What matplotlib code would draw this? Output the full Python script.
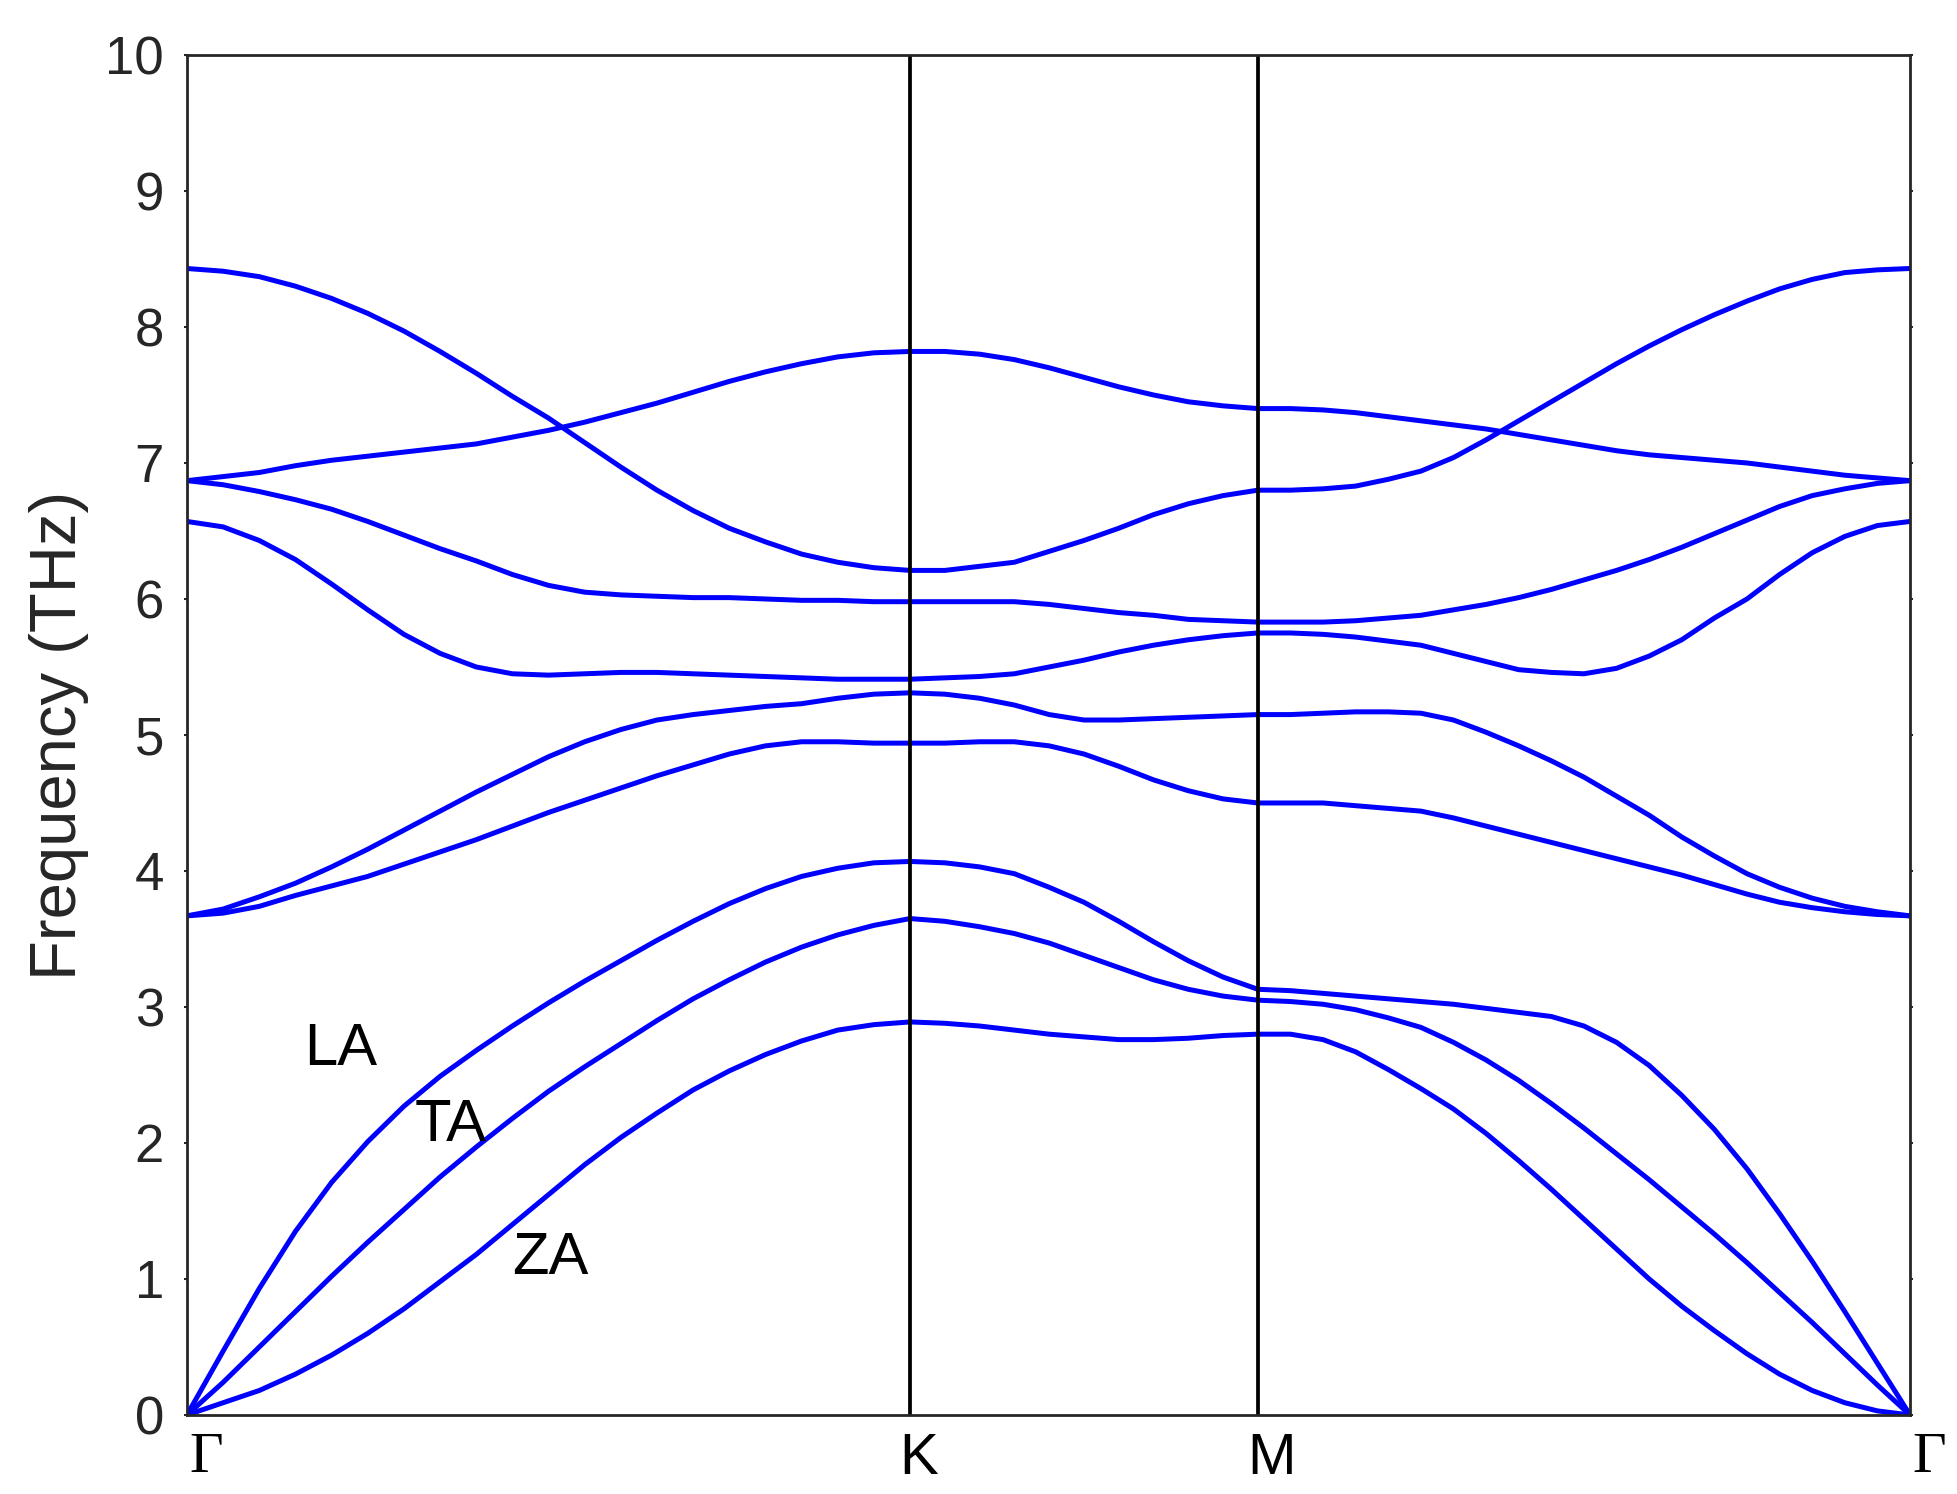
import numpy as np
import matplotlib
matplotlib.use('Agg')
import matplotlib.pyplot as plt
from matplotlib.transforms import ScaledTranslation

# k-path: Gamma - K - M - Gamma
seg_len = [1.0, 0.481, 0.902]
seg_pts = [21, 11, 21]
path_labels = ['Γ', 'K', 'M', 'Γ']

# phonon branches (THz), read along G-K | K-M | M-G
ZA = [0, 0.09, 0.18, 0.30, 0.44, 0.60, 0.78, 0.98, 1.18, 1.40, 1.62, 1.84, 2.04, 2.22, 2.39, 2.53, 2.65, 2.75, 2.83, 2.87, 2.89,
      2.88, 2.86, 2.83, 2.80, 2.78, 2.76, 2.76, 2.77, 2.79, 2.80,
      2.80, 2.76, 2.67, 2.54, 2.40, 2.25, 2.07, 1.87, 1.66, 1.44, 1.22, 1.00, 0.80, 0.62, 0.45, 0.30, 0.18, 0.09, 0.03, 0]
TA = [0, 0.24, 0.50, 0.76, 1.02, 1.27, 1.51, 1.75, 1.97, 2.18, 2.38, 2.56, 2.73, 2.90, 3.06, 3.20, 3.33, 3.44, 3.53, 3.60, 3.65,
      3.63, 3.59, 3.54, 3.47, 3.38, 3.29, 3.20, 3.13, 3.08, 3.05,
      3.04, 3.02, 2.98, 2.92, 2.85, 2.74, 2.61, 2.46, 2.29, 2.11, 1.92, 1.73, 1.53, 1.33, 1.12, 0.90, 0.68, 0.45, 0.22, 0]
LA = [0, 0.47, 0.93, 1.35, 1.71, 2.01, 2.27, 2.49, 2.68, 2.86, 3.03, 3.19, 3.34, 3.49, 3.63, 3.76, 3.87, 3.96, 4.02, 4.06, 4.07,
      4.06, 4.03, 3.98, 3.88, 3.77, 3.63, 3.48, 3.34, 3.22, 3.13,
      3.12, 3.10, 3.08, 3.06, 3.04, 3.02, 2.99, 2.96, 2.93, 2.86, 2.74, 2.57, 2.35, 2.10, 1.81, 1.48, 1.13, 0.76, 0.38, 0]
opt1 = [3.67, 3.69, 3.74, 3.82, 3.89, 3.96, 4.05, 4.14, 4.23, 4.33, 4.43, 4.52, 4.61, 4.70, 4.78, 4.86, 4.92, 4.95, 4.95, 4.94, 4.94,
        4.94, 4.95, 4.95, 4.92, 4.86, 4.77, 4.67, 4.59, 4.53, 4.50,
        4.50, 4.50, 4.48, 4.46, 4.44, 4.39, 4.33, 4.27, 4.21, 4.15, 4.09, 4.03, 3.97, 3.90, 3.83, 3.77, 3.73, 3.70, 3.68, 3.67]
opt2 = [3.67, 3.72, 3.81, 3.91, 4.03, 4.16, 4.30, 4.44, 4.58, 4.71, 4.84, 4.95, 5.04, 5.11, 5.15, 5.18, 5.21, 5.23, 5.27, 5.30, 5.31,
        5.30, 5.27, 5.22, 5.15, 5.11, 5.11, 5.12, 5.13, 5.14, 5.15,
        5.15, 5.16, 5.17, 5.17, 5.16, 5.11, 5.02, 4.92, 4.81, 4.69, 4.55, 4.41, 4.25, 4.11, 3.98, 3.88, 3.80, 3.74, 3.70, 3.67]
opt3 = [6.57, 6.53, 6.43, 6.29, 6.11, 5.92, 5.74, 5.60, 5.50, 5.45, 5.44, 5.45, 5.46, 5.46, 5.45, 5.44, 5.43, 5.42, 5.41, 5.41, 5.41,
        5.42, 5.43, 5.45, 5.50, 5.55, 5.61, 5.66, 5.70, 5.73, 5.75,
        5.75, 5.74, 5.72, 5.69, 5.66, 5.60, 5.54, 5.48, 5.46, 5.45, 5.49, 5.58, 5.70, 5.86, 6.00, 6.18, 6.34, 6.46, 6.54, 6.57]
opt4 = [6.87, 6.84, 6.79, 6.73, 6.66, 6.57, 6.47, 6.37, 6.28, 6.18, 6.10, 6.05, 6.03, 6.02, 6.01, 6.01, 6.00, 5.99, 5.99, 5.98, 5.98,
        5.98, 5.98, 5.98, 5.96, 5.93, 5.90, 5.88, 5.85, 5.84, 5.83,
        5.83, 5.83, 5.84, 5.86, 5.88, 5.92, 5.96, 6.01, 6.07, 6.14, 6.21, 6.29, 6.38, 6.48, 6.58, 6.68, 6.76, 6.81, 6.85, 6.87]
opt5 = [6.87, 6.90, 6.93, 6.98, 7.02, 7.05, 7.08, 7.11, 7.14, 7.19, 7.24, 7.30, 7.37, 7.44, 7.52, 7.60, 7.67, 7.73, 7.78, 7.81, 7.82,
        7.82, 7.80, 7.76, 7.70, 7.63, 7.56, 7.50, 7.45, 7.42, 7.40,
        7.40, 7.39, 7.37, 7.34, 7.31, 7.28, 7.25, 7.21, 7.17, 7.13, 7.09, 7.06, 7.04, 7.02, 7.00, 6.97, 6.94, 6.91, 6.89, 6.87]
opt6 = [8.43, 8.41, 8.37, 8.30, 8.21, 8.10, 7.97, 7.82, 7.66, 7.49, 7.33, 7.15, 6.97, 6.80, 6.65, 6.52, 6.42, 6.33, 6.27, 6.23, 6.21,
        6.21, 6.24, 6.27, 6.35, 6.43, 6.52, 6.62, 6.70, 6.76, 6.80,
        6.80, 6.81, 6.83, 6.88, 6.94, 7.04, 7.17, 7.31, 7.45, 7.59, 7.73, 7.86, 7.98, 8.09, 8.19, 8.28, 8.35, 8.40, 8.42, 8.43]

bands = [ZA, TA, LA, opt1, opt2, opt3, opt4, opt5, opt6]

# k distance for each sample point
nodes = np.concatenate([[0], np.cumsum(seg_len)])
kdist = [np.linspace(nodes[0], nodes[1], seg_pts[0])]
for i in (1, 2):
    kdist.append(np.linspace(nodes[i], nodes[i + 1], seg_pts[i])[1:])
kdist = np.concatenate(kdist)

fig = plt.figure(figsize=(19.58, 14.94), dpi=100)
ax = fig.add_axes([0.0955, 0.0529, 0.88, 0.9103])

for b in bands:
    ax.plot(kdist, b, color='#0000ff', lw=3.6, solid_joinstyle='round')

for x in nodes[1:-1]:
    ax.axvline(x, color='black', lw=2.7)

ax.set_xlim(nodes[0], nodes[-1])
ax.set_ylim(0, 10)
ax.set_yticks(range(0, 11))
ax.set_xticks(nodes)
ax.set_xticklabels(path_labels)

for s in ax.spines.values():
    s.set_color('#262626')
    s.set_linewidth(2.0)

ax.tick_params(axis='y', direction='out', length=2.5, width=1.5, colors='#262626',
               right=True, labelsize=38, pad=14)
ax.tick_params(axis='x', length=0, labelsize=42, pad=12, labelcolor='black')
for lab in ax.get_yticklabels():
    lab.set_family('Liberation Sans')

offsets = [19, 9, 14, 19]
for lab, dx in zip(ax.get_xticklabels(), offsets):
    if lab.get_text() == 'Γ':
        lab.set_family('Liberation Serif')
    else:
        lab.set_family('Liberation Sans')
    lab.set_transform(lab.get_transform() + ScaledTranslation(dx / 100, 0, fig.dpi_scale_trans))

ax.set_ylabel('Frequency (THz)', fontsize=47, family='Liberation Sans', color='#262626', labelpad=12)

for name, x, y in [('LA', 0.213, 2.69), ('TA', 0.365, 2.13), ('ZA', 0.503, 1.15)]:
    ax.text(x, y, name, fontsize=43, family='Liberation Sans', ha='center', va='center')

fig.savefig('out.png', dpi=100)
